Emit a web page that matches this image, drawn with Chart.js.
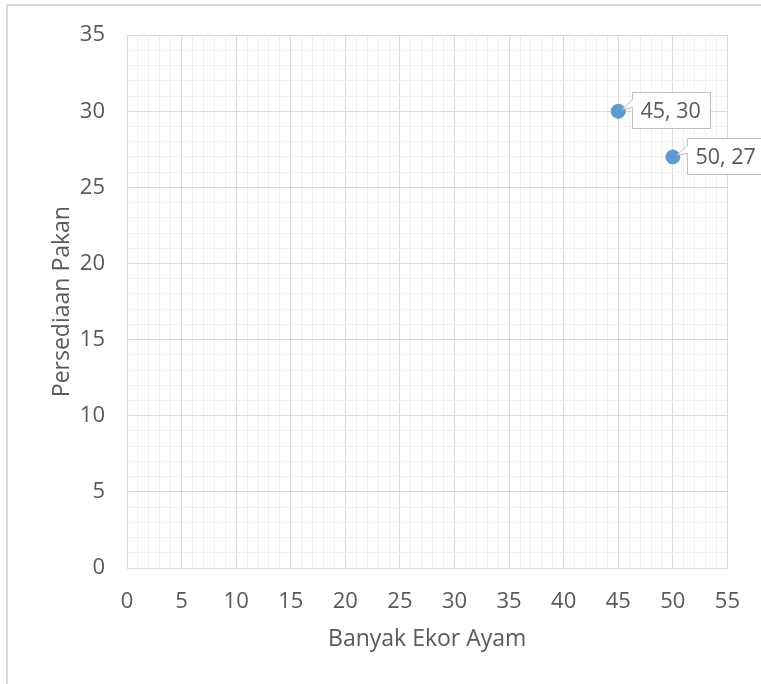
<!DOCTYPE html>
<html>
<head>
<meta charset="utf-8">
<script src="https://cdn.jsdelivr.net/npm/chart.js@4"></script>
<style>
  html, body { margin: 0; padding: 0; background: #fff; }
  canvas { display: block; }
</style>
</head>
<body>
<canvas id="chart" width="761" height="684"></canvas>
<script>
// Feed stock against number of chickens
const ekorAyam = [45, 50];
const persediaanPakan = [30, 27];
const xRange = [0, 55];
const yRange = [0, 35];
const xTitle = 'Banyak Ekor Ayam';
const yTitle = 'Persediaan Pakan';

const FONT = "'Open Sans', 'Noto Sans', sans-serif";
const TEXT = '#595959';
const MAJOR = '#d9d9d9';
const MINOR = '#f0f0f0';

const points = ekorAyam.map((x, i) => ({ x, y: persediaanPakan[i] }));

// White page with a light frame around the chart
const frame = {
  id: 'frame',
  beforeDraw(chart) {
    const ctx = chart.ctx;
    ctx.save();
    ctx.fillStyle = '#fff';
    ctx.fillRect(0, 0, chart.width, chart.height);
    ctx.strokeStyle = MAJOR;
    ctx.lineWidth = 2;
    ctx.strokeRect(7, 5, chart.width + 20, chart.height + 20);
    ctx.restore();
  }
};

// Callout labels showing "x, y" next to each point
const callouts = {
  id: 'callouts',
  afterDatasetsDraw(chart) {
    const ctx = chart.ctx;
    const meta = chart.getDatasetMeta(0);
    ctx.save();
    ctx.font = '21.5px ' + FONT;
    meta.data.forEach((el, i) => {
      const p = chart.data.datasets[0].data[i];
      const px = el.x, py = el.y;
      const left = Math.round(px) + 14.5, top = Math.round(py) - 18.5;
      const w = 78, h = 36;
      ctx.beginPath();
      ctx.moveTo(left, top);
      ctx.lineTo(left + w, top);
      ctx.lineTo(left + w, top + h);
      ctx.lineTo(left, top + h);
      ctx.lineTo(left, top + 15);
      ctx.lineTo(px + 4, py - 2);
      ctx.lineTo(left, top + 7);
      ctx.closePath();
      ctx.fillStyle = '#fff';
      ctx.fill();
      ctx.strokeStyle = '#bfbfbf';
      ctx.lineWidth = 1;
      ctx.stroke();
      ctx.fillStyle = TEXT;
      ctx.textAlign = 'left';
      ctx.textBaseline = 'middle';
      ctx.fillText(p.x + ', ' + p.y, left + 8, top + h / 2 + 1);
    });
    ctx.restore();
  }
};

const gridColor = (ctx) => (ctx.tick && ctx.tick.value % 5 === 0 ? MAJOR : MINOR);
const fiveOnly = (v) => (v % 5 === 0 ? v : '');

new Chart(document.getElementById('chart'), {
  type: 'scatter',
  data: {
    datasets: [{
      data: points,
      backgroundColor: '#5b9bd5',
      borderColor: '#5b9bd5',
      borderWidth: 1,
      pointRadius: 7,
      pointHoverRadius: 7
    }]
  },
  options: {
    responsive: false,
    animation: false,
    layout: { padding: { left: 0, top: 33, right: 33, bottom: 0 } },
    plugins: {
      legend: { display: false },
      tooltip: { enabled: false }
    },
    scales: {
      x: {
        type: 'linear',
        min: xRange[0],
        max: xRange[1],
        afterFit(scale) { scale.height = 116; },
        ticks: {
          stepSize: 1,
          autoSkip: false,
          maxRotation: 0,
          minRotation: 0,
          padding: 21,
          color: TEXT,
          font: { family: FONT, size: 22 },
          callback: fiveOnly
        },
        grid: { color: gridColor, drawTicks: false, lineWidth: 1 },
        border: { color: MAJOR },
        title: {
          display: true,
          text: xTitle,
          color: TEXT,
          font: { family: FONT, size: 23 },
          padding: { top: 0, bottom: 31 }
        }
      },
      y: {
        type: 'linear',
        min: yRange[0],
        max: yRange[1],
        afterFit(scale) { scale.width = 127; },
        ticks: {
          stepSize: 1,
          autoSkip: false,
          padding: 22,
          color: TEXT,
          font: { family: FONT, size: 22 },
          callback: fiveOnly
        },
        grid: { color: gridColor, drawTicks: false, lineWidth: 1 },
        border: { color: MAJOR },
        title: {
          display: true,
          text: yTitle,
          color: TEXT,
          font: { family: FONT, size: 23 },
          padding: { top: 49, bottom: 0 }
        }
      }
    }
  },
  plugins: [frame, callouts]
});
</script>
</body>
</html>
